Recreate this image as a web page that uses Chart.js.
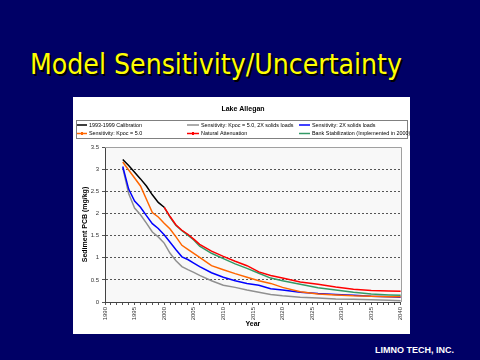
<!DOCTYPE html>
<html><head><meta charset="utf-8">
<script src="https://cdn.jsdelivr.net/npm/chart.js@4"></script>
<style>
html,body{margin:0;padding:0;width:480px;height:360px;overflow:hidden;background:#000066;}
#title{position:absolute;left:30px;top:50px;font-family:"DejaVu Sans Condensed","DejaVu Sans",sans-serif;font-size:29px;line-height:29px;color:#ffff00;text-shadow:2px 2px 0 #000000;white-space:nowrap;transform-origin:0 0;}
#box{position:absolute;left:73px;top:97px;width:337px;height:237px;background:#fff;}
#c{display:block;}
#footer{position:absolute;left:375px;top:346px;font-family:"Liberation Sans",Arial,sans-serif;font-weight:bold;font-size:9px;line-height:9px;color:#fff;white-space:nowrap;}
</style></head>
<body>
<div id="title">Model Sensitivity/Uncertainty</div>
<div id="box"><canvas id="c" width="337" height="237"></canvas></div>
<div id="footer">LIMNO TECH, INC.</div>
<script>
const chartTitle = 'Lake Allegan';
const xLabel = 'Year';
const yLabel = 'Sediment PCB (mg/kg)';
const years = [1993,1994,1995,1996,1997,1998,1999,2000,2001,2002,2003,2004,2005,2006,2008,2010,2012,2014,2016,2018,2020,2023,2026,2029,2032,2035,2038,2040];
const calibration = [3.22,3.08,2.93,2.78,2.62,2.42,2.25,2.14,null,null,null,null,null,null,null,null,null,null,null,null,null,null,null,null,null,null,null,null];
const naturalAttenuation = [null,null,null,null,null,null,null,2.14,1.93,1.74,1.62,1.53,1.42,1.30,1.15,1.03,0.92,0.82,0.68,0.60,0.54,0.45,0.40,0.34,0.29,0.26,0.25,0.24];
const bankStabilization = [null,null,null,null,null,null,null,2.14,1.91,1.73,1.61,1.51,1.40,1.26,1.10,0.98,0.86,0.76,0.65,0.54,0.48,0.40,0.32,0.27,0.22,0.18,0.16,0.15];
const kpoc5 = [3.16,2.98,2.80,2.62,2.32,2.02,1.92,1.78,1.65,1.47,1.28,1.19,1.10,1.01,0.82,0.73,0.64,0.56,0.48,0.42,0.33,0.23,0.18,0.16,0.14,0.13,0.12,0.12];
const solids2x = [3.06,2.55,2.28,2.14,1.95,1.77,1.66,1.52,1.35,1.18,1.02,0.96,0.88,0.80,0.66,0.56,0.48,0.42,0.38,0.30,0.27,0.22,0.19,0.17,0.15,0.13,0.12,0.11];
const kpoc5Solids2x = [3.03,2.45,2.12,1.97,1.78,1.58,1.47,1.33,1.10,0.93,0.80,0.73,0.67,0.60,0.48,0.38,0.33,0.27,0.22,0.17,0.14,0.11,0.09,0.07,0.06,0.05,0.04,0.03];
const seriesNames = ['1993-1999 Calibration','Natural Attenuation','Bank Stabilization (Implemented in 2000)','Sensitivity: Kpoc = 5.0','Sensitivity: 2X solids loads','Sensitivity: Kpoc = 5.0, 2X solids loads'];
const seriesValues = [calibration, naturalAttenuation, bankStabilization, kpoc5, solids2x, kpoc5Solids2x];
const seriesColors = ['#000000','#ff0000','#339966','#ff6600','#0000ff','#909090'];
const legendRows = [[0,5,4],[3,1,2]];

// fit title width
(function(){const t=document.getElementById('title');const w=t.getBoundingClientRect().width;t.style.transform='scaleX('+(372/w)+')';})();

const FONT = '"Liberation Sans", Arial, sans-serif';

const decor = {
  id:'decor',
  beforeDraw(chart){
    const {ctx, chartArea:a} = chart;
    ctx.save();
    ctx.fillStyle = '#f8f8f8';
    ctx.fillRect(a.left, a.top, a.right-a.left, a.bottom-a.top);
    ctx.restore();
  },
  afterDraw(chart){
    const {ctx, chartArea:a} = chart;
    ctx.save();
    ctx.strokeStyle = '#a0a0a0'; ctx.lineWidth = 1;
    ctx.beginPath();
    ctx.moveTo(a.left, Math.round(a.top)+0.5); ctx.lineTo(Math.round(a.right)+0.5, Math.round(a.top)+0.5);
    ctx.lineTo(Math.round(a.right)+0.5, a.bottom);
    ctx.stroke();
    // chart title
    ctx.fillStyle = '#000';
    ctx.font = 'bold 7px ' + FONT;
    ctx.textAlign = 'center'; ctx.textBaseline = 'middle';
    ctx.fillText(chartTitle, 170, 12.5);
    // legend box
    ctx.strokeStyle = '#808080';
    ctx.strokeRect(3.5, 23.5, 331, 18);
    const colX = [[4,14],[114,126],[226,237]];
    const rowY = [28, 36.5];
    ctx.font = '5.4px ' + FONT;
    ctx.textAlign = 'left';
    legendRows.forEach((row, r) => {
      row.forEach((di, c) => {
        const ds = chart.data.datasets[di];
        const [x0, x1] = colX[c];
        const y = rowY[r];
        ctx.strokeStyle = ds.borderColor; ctx.lineWidth = 1.5;
        ctx.beginPath(); ctx.moveTo(x0, y); ctx.lineTo(x1, y); ctx.stroke();
        if (di === 3 || di === 1) {
          ctx.fillStyle = ds.borderColor;
          ctx.fillRect((x0+x1)/2-1, y-1.5, 2, 3);
        }
        ctx.fillStyle = '#000';
        ctx.fillText(ds.label, x1 + 2, y + 0.5);
      });
    });
    ctx.restore();
  }
};

new Chart(document.getElementById('c'), {
  type:'line',
  data:{
    datasets: seriesNames.map((name, i) => ({
      label: name,
      data: years.map((yr, j) => ({x: yr, y: seriesValues[i][j]})),
      borderColor: seriesColors[i],
      backgroundColor: seriesColors[i],
      borderWidth: 1.5,
      pointRadius: 0,
      fill: false,
      spanGaps: false,
      tension: 0
    }))
  },
  options:{
    responsive:false,
    animation:false,
    layout:{padding:{top:50,right:5,left:0,bottom:0}},
    plugins:{legend:{display:false},title:{display:false},tooltip:{enabled:false}},
    scales:{
      x:{
        type:'linear', min:1990, max:2040,
        afterFit:s=>{s.height=32;},
        ticks:{stepSize:1, autoSkip:false, maxRotation:90, minRotation:90, padding:2,
          font:{size:6,family:FONT}, color:'#333',
          callback:v => (v % 5 === 0 ? String(v) : '')},
        grid:{drawOnChartArea:false, drawTicks:true, tickLength:3, color:'#555', tickColor:'#555'},
        border:{color:'#444', width:1},
        title:{display:true, text:xLabel, color:'#000', font:{size:7,weight:'bold',family:FONT}, padding:{top:0,bottom:6}}
      },
      y:{
        min:0, max:3.5,
        afterFit:s=>{s.width=32;},
        ticks:{stepSize:0.5, padding:3, font:{size:6,family:FONT}, color:'#333',
          callback:v => String(Math.round(v*10)/10)},
        grid:{color:c => (c.tick && c.tick.value > 0 && c.tick.value < 3.5) ? '#555' : 'rgba(0,0,0,0)', tickColor:'#555', tickLength:3, lineWidth:1},
        border:{color:'#444', width:1, dash:[2,2]},
        title:{display:true, text:yLabel, color:'#000', font:{size:7,weight:'bold',family:FONT}, padding:{top:8,bottom:0}}
      }
    }
  },
  plugins:[decor]
});
</script>
</body></html>
